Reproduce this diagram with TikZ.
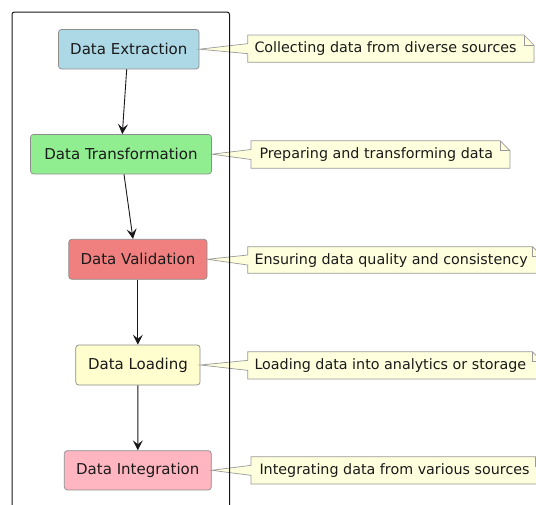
\documentclass[tikz,border=0pt]{standalone}
\usepackage{fontspec}
\setmainfont{DejaVu Sans}
\usetikzlibrary{calc,arrows.meta}
\definecolor{cExtr}{HTML}{ADD8E6}
\definecolor{cTrans}{HTML}{90EE90}
\definecolor{cVal}{HTML}{F08080}
\definecolor{cLoad}{HTML}{FEFECE}
\definecolor{cInt}{HTML}{FFB6C1}
\definecolor{cNote}{HTML}{FEFFDD}
\definecolor{cNoteBorder}{HTML}{999999}
\definecolor{cBorder}{HTML}{8C8C8C}
\definecolor{cLine}{HTML}{181818}
\definecolor{cText}{HTML}{1A1A1A}
\tikzset{
  act/.style={draw=cBorder, line width=0.7pt, rounded corners=3pt, inner sep=0pt,
    font=\fontsize{15}{18}\selectfont, text=cText},
  notetext/.style={inner sep=0pt, font=\fontsize{14.3}{17}\selectfont, text=cText, anchor=west},
  notebox/.style={draw=cNoteBorder, fill=cNote, line width=0.7pt, line join=miter},
  arr/.style={draw=cLine, line width=0.9pt, -{Stealth[length=10pt,width=10pt,inset=4pt]}},
  lane/.style={draw=cLine, line width=1pt, rounded corners=2.5pt}
}
% #1 left x, #2 top y, #3 right x, #4 bottom y, #5 target node
\newcommand{\mynote}[5]{%
  \path[notebox] (#1,#2) -- (#3-10,#2) -- (#3,#2+10) -- (#3,#4) -- (#1,#4)
    -- (#1,{(#2+#4)/2+5}) -- (#5.east) -- (#1,{(#2+#4)/2-5}) -- cycle;
  \draw[draw=cNoteBorder, line width=0.7pt] (#3-10,#2) -- (#3-10,#2+10) -- (#3,#2+10);
}
\begin{document}
\begin{tikzpicture}[x=1pt,y=-1pt]
\useasboundingbox (0,0) rectangle (536,504);
\clip (0,0) rectangle (536,504);
\fill[white] (0,0) rectangle (536,504);

% activities
\node[act, fill=cExtr, minimum width=140.5pt, minimum height=39.5pt] (e1) at (128.8,49.2) {Data Extraction};
\node[act, fill=cTrans, minimum width=181pt, minimum height=39.5pt] (e2) at (121,154.2) {Data Transformation};
\node[act, fill=cVal, minimum width=138.3pt, minimum height=40pt] (e3) at (137.9,259.3) {Data Validation};
\node[act, fill=cLoad, minimum width=124.3pt, minimum height=40pt] (e4) at (137.9,365) {Data Loading};
\node[act, fill=cInt, minimum width=147pt, minimum height=39.3pt] (e5) at (137.8,470.3) {Data Integration};

% notes
\mynote{247.7}{35}{534}{62.3}{e1}
\node[notetext] (n1) at (254.3,48.9) {Collecting data from diverse sources};
\mynote{251}{140.7}{510}{168.3}{e2}
\node[notetext] (n2) at (259.3,154.7) {Preparing and transforming data};
\mynote{247.7}{246.7}{542.6}{273.3}{e3}
\node[notetext] (n3) at (254.3,260.2) {Ensuring data quality and consistency};
\mynote{247.7}{351.7}{542.3}{379}{e4}
\node[notetext] (n4) at (254.3,365.5) {Loading data into analytics or storage};
\mynote{251}{456.7}{545.6}{484}{e5}
\node[notetext] (n5) at (259.3,470.5) {Integrating data from various sources};

% swimlane
\draw[lane] (12,520) -- (12,12) -- (229.5,12) -- (229.5,520);

% arrows
\draw[arr] ([xshift=-2.1pt]e1.south) -- ([xshift=1.3pt]e2.north);
\draw[arr] ([xshift=3pt]e2.south) -- ([xshift=-4.9pt]e3.north);
\draw[arr] (e3.south) -- (e4.north);
\draw[arr] (e4.south) -- (e5.north);
\end{tikzpicture}
\end{document}
